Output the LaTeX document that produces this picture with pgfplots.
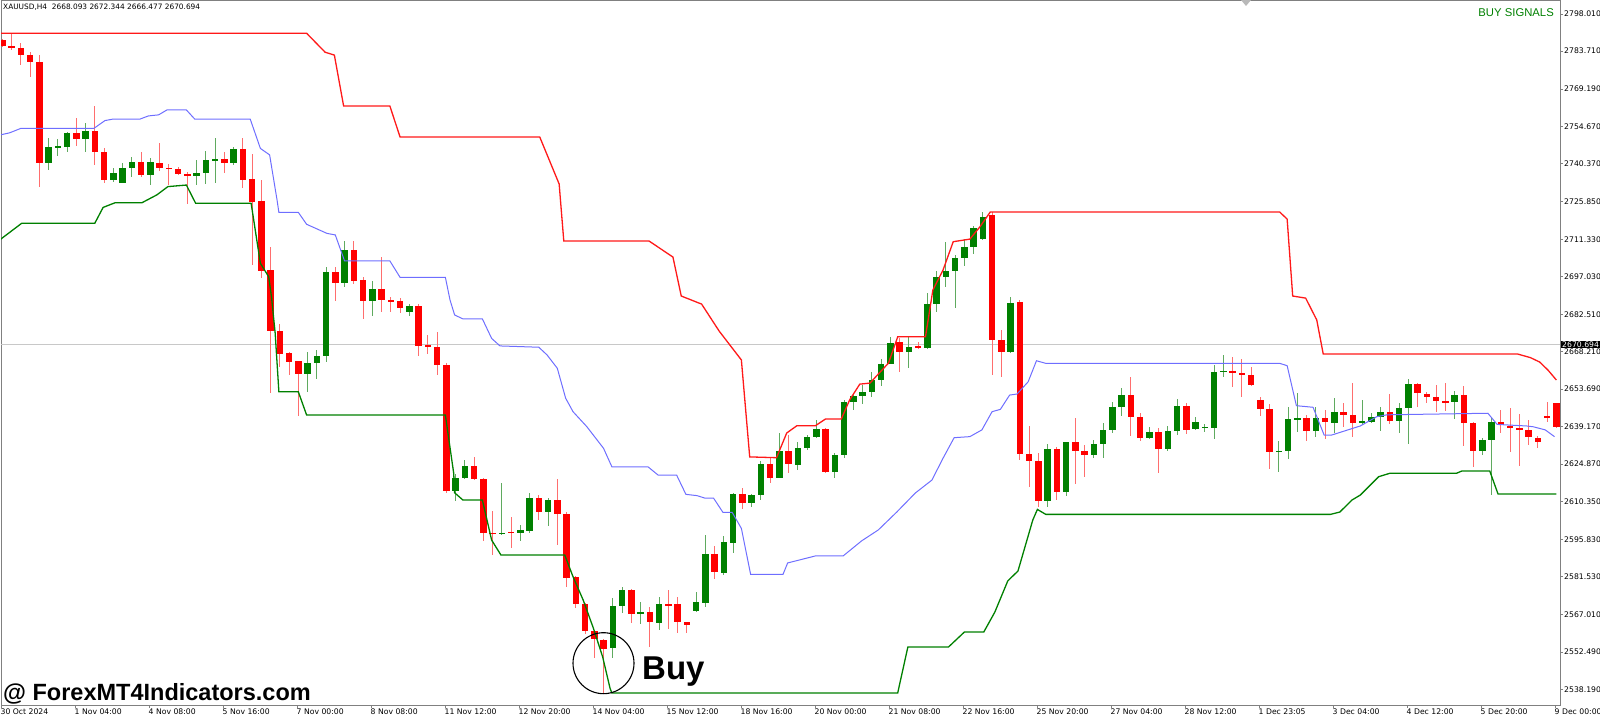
\documentclass[border=0pt]{standalone}
\usepackage{fontspec}
\setmainfont{DejaVu Sans}
\newfontfamily\lib{Liberation Sans}
\usepackage{pgfplots}
\usepackage{pgfplotstable}
\pgfplotsset{compat=1.18}
\definecolor{cgreen}{RGB}{0,128,0}
\definecolor{cred}{RGB}{255,0,0}
\definecolor{wickred}{RGB}{255,110,110}
\definecolor{wickgreen}{RGB}{95,170,95}
\definecolor{lred}{RGB}{255,25,25}
\definecolor{lblue}{RGB}{110,110,255}
\definecolor{lgreen}{RGB}{0,128,0}
\definecolor{axgray}{RGB}{128,128,128}

\pgfplotstableread{
i o h l c
0 2788.0 2788.4 2785.3 2785.7
1 2785.8 2790.3 2784.2 2785.0
2 2784.9 2786.9 2778.4 2782.2
3 2782.2 2783.4 2773.8 2779.5
4 2779.5 2782.2 2731.4 2740.7
8 2752.2 2758.0 2747.2 2749.9
10 2753.0 2762.6 2739.9 2744.9
11 2744.9 2746.5 2733.0 2734.1
15 2741.1 2744.9 2735.3 2736.1
17 2740.7 2748.4 2737.6 2738.8
18 2738.8 2740.3 2732.2 2738.4
19 2738.4 2739.1 2736.1 2736.5
20 2736.5 2737.2 2724.9 2735.7
24 2742.2 2744.9 2736.8 2740.7
26 2746.1 2750.3 2731.1 2734.1
27 2734.5 2744.1 2701.4 2725.7
28 2726.1 2734.1 2696.4 2699.1
29 2699.5 2708.4 2652.2 2676.0
30 2676.0 2678.7 2662.2 2667.2
31 2667.6 2668.0 2659.1 2664.1
32 2664.5 2664.5 2643.3 2659.5
36 2698.7 2700.7 2687.6 2694.5
38 2707.2 2710.7 2694.1 2695.3
39 2695.7 2696.8 2680.7 2687.6
41 2692.2 2704.5 2683.4 2688.0
42 2688.0 2689.1 2683.4 2687.4
43 2687.6 2688.7 2683.0 2684.9
45 2685.7 2686.4 2666.4 2670.3
46 2670.7 2674.5 2667.2 2669.9
47 2669.9 2675.7 2659.1 2663.0
48 2663.0 2663.7 2613.7 2614.5
51 2624.1 2627.6 2618.7 2619.1
52 2619.1 2619.5 2595.3 2598.3
53 2598.5 2606.8 2589.9 2598.1
55 2598.9 2604.5 2592.6 2598.5
58 2611.8 2612.9 2603.3 2606.4
60 2611.0 2619.1 2593.7 2605.6
61 2605.6 2606.4 2577.6 2581.0
62 2581.4 2581.8 2569.5 2571.0
63 2571.0 2571.4 2559.5 2560.6
64 2560.6 2561.0 2550.2 2557.5
65 2557.2 2557.5 2536.8 2553.7
68 2576.4 2576.8 2563.7 2567.1
70 2567.9 2569.9 2554.5 2564.1
72 2571.0 2576.4 2561.4 2570.6
73 2571.0 2573.7 2559.9 2564.1
74 2564.1 2564.1 2559.9 2562.9
77 2590.3 2593.3 2580.6 2583.3
80 2613.3 2615.6 2607.6 2609.9
83 2624.9 2627.2 2617.6 2619.5
85 2629.9 2636.0 2621.4 2624.9
89 2638.3 2638.7 2621.4 2621.8
97 2671.8 2673.4 2660.3 2668.0
99 2670.3 2671.8 2669.1 2669.5
107 2720.7 2721.8 2659.1 2672.6
108 2672.6 2676.4 2658.4 2668.0
110 2687.2 2688.0 2626.4 2628.7
111 2628.7 2639.5 2616.0 2626.0
112 2626.0 2629.1 2608.3 2610.6
114 2630.6 2631.4 2611.0 2614.1
116 2633.3 2642.6 2617.2 2629.9
117 2629.9 2632.2 2619.9 2628.3
122 2651.4 2658.4 2635.6 2642.9
123 2642.9 2644.5 2633.7 2634.9
125 2637.2 2638.7 2621.4 2630.6
128 2647.2 2648.3 2636.4 2637.9
133 2660.7 2666.0 2654.5 2659.9
134 2660.0 2665.3 2650.6 2659.2
135 2659.1 2662.2 2654.9 2655.3
136 2649.5 2650.6 2643.3 2646.0
137 2646.0 2647.9 2622.9 2629.5
141 2642.6 2643.7 2633.7 2637.6
143 2642.6 2645.7 2634.5 2641.0
145 2644.9 2648.3 2639.1 2643.7
146 2643.7 2656.0 2635.3 2640.7
150 2644.9 2651.8 2640.3 2641.4
153 2655.6 2656.0 2646.8 2652.2
154 2651.8 2652.6 2648.3 2650.6
155 2650.6 2655.3 2644.9 2649.1
156 2649.1 2656.0 2645.3 2648.7
158 2651.4 2654.9 2631.8 2640.7
159 2640.7 2641.0 2623.7 2629.9
162 2641.0 2645.7 2636.8 2639.9
163 2639.5 2646.4 2629.5 2638.7
164 2638.7 2644.1 2624.1 2637.9
165 2637.9 2641.8 2632.2 2635.3
166 2634.9 2635.7 2631.0 2633.3
167 2643.3 2648.7 2641.0 2642.9
168 2648.3 2648.3 2638.7 2639.1
}\dn

\pgfplotstableread{
i o h l c
5 2740.7 2750.3 2738.0 2746.8
6 2746.7 2749.9 2743.4 2747.2
7 2746.8 2752.6 2744.9 2752.2
9 2749.9 2756.1 2744.9 2753.0
12 2734.1 2738.8 2733.4 2736.8
13 2733.0 2740.7 2733.0 2738.8
14 2738.8 2743.0 2735.3 2741.1
16 2736.1 2742.6 2732.2 2741.1
21 2735.7 2741.8 2732.2 2736.8
22 2736.8 2745.3 2732.6 2741.8
23 2741.8 2750.3 2733.0 2742.2
25 2740.7 2746.8 2739.9 2746.1
33 2659.5 2668.0 2652.6 2663.7
34 2663.7 2668.7 2657.6 2666.4
35 2666.4 2700.7 2664.1 2698.7
37 2694.5 2710.7 2693.0 2707.2
40 2687.6 2695.3 2681.8 2692.2
44 2683.4 2686.4 2681.8 2685.7
49 2614.5 2621.0 2610.6 2619.5
50 2619.5 2626.4 2619.1 2624.1
54 2598.1 2617.6 2597.6 2598.5
56 2598.3 2601.4 2595.3 2599.3
57 2599.1 2613.7 2598.3 2611.8
59 2606.4 2611.8 2601.0 2611.0
66 2554.1 2573.3 2550.2 2570.2
67 2570.4 2577.6 2567.5 2576.4
69 2567.1 2571.8 2563.3 2567.9
71 2563.7 2573.7 2561.0 2571.0
75 2568.3 2575.6 2567.9 2571.8
76 2571.4 2597.6 2569.9 2590.3
78 2582.9 2597.2 2582.2 2594.9
79 2594.5 2613.7 2590.6 2613.3
81 2609.9 2613.3 2608.3 2612.9
82 2612.9 2626.0 2611.0 2624.9
84 2619.5 2636.8 2619.5 2629.9
86 2624.5 2633.3 2622.6 2631.0
87 2631.0 2636.0 2630.3 2635.3
88 2635.3 2641.8 2634.9 2638.3
90 2621.8 2629.1 2619.5 2628.3
91 2628.3 2649.5 2627.2 2648.7
92 2648.7 2652.2 2645.7 2651.0
93 2651.0 2655.3 2648.0 2652.6
94 2652.6 2660.3 2650.6 2657.2
95 2657.2 2665.3 2654.9 2663.3
96 2663.3 2673.7 2663.3 2671.4
98 2668.0 2673.7 2661.8 2669.9
100 2669.5 2690.7 2669.1 2686.4
101 2686.4 2699.1 2683.4 2696.8
102 2696.8 2710.3 2693.0 2699.1
103 2699.1 2705.3 2684.9 2704.1
104 2704.1 2711.4 2701.1 2708.4
105 2708.4 2716.4 2705.7 2715.7
106 2711.4 2721.8 2711.1 2719.9
109 2668.0 2689.1 2667.6 2686.8
113 2610.6 2632.6 2608.3 2630.6
115 2614.1 2633.3 2612.6 2633.3
118 2628.3 2634.1 2627.2 2632.6
119 2632.6 2640.7 2627.2 2637.9
120 2637.9 2648.7 2636.8 2646.8
121 2646.8 2654.1 2643.3 2651.4
124 2634.9 2639.1 2634.5 2637.2
126 2630.6 2639.5 2629.9 2637.6
127 2637.6 2649.9 2636.0 2647.2
129 2638.3 2642.9 2637.9 2641.0
130 2638.9 2640.3 2637.2 2639.3
131 2638.7 2663.0 2634.5 2660.3
132 2660.3 2666.8 2658.4 2660.7
138 2629.5 2633.7 2621.8 2629.9
139 2629.9 2646.8 2626.8 2642.2
140 2642.0 2652.2 2637.2 2642.6
142 2637.6 2646.8 2635.3 2642.6
144 2640.7 2650.3 2636.8 2644.9
147 2640.7 2649.5 2639.9 2641.4
148 2641.0 2644.5 2640.7 2642.9
149 2642.9 2646.8 2637.6 2644.9
151 2641.4 2648.3 2636.8 2646.4
152 2646.4 2657.6 2632.6 2655.6
157 2648.7 2653.0 2642.2 2651.4
160 2629.9 2634.9 2628.3 2634.1
161 2634.1 2643.0 2613.0 2641.0
}\up

\begin{document}
\begin{tikzpicture}
\begin{axis}[
  at={(1bp,18bp)}, anchor=south west,
  width=1559bp, height=705bp, scale only axis,
  xmin=-0.14, xmax=168.4, ymin=2532.15, ymax=2803.40,
  axis line style={draw=axgray, line width=0.8bp},
  xtick={-0.14,7.86,15.86,23.86,31.86,39.86,47.86,55.86,63.86,71.86,79.86,87.86,95.86,103.86,111.86,119.86,127.86,135.86,143.86,151.86,159.86,167.86},
  xticklabels={30 Oct 2024,1 Nov 04:00,4 Nov 08:00,5 Nov 16:00,7 Nov 00:00,8 Nov 08:00,11 Nov 12:00,12 Nov 20:00,14 Nov 04:00,15 Nov 12:00,18 Nov 16:00,20 Nov 00:00,21 Nov 08:00,22 Nov 16:00,25 Nov 20:00,27 Nov 04:00,28 Nov 12:00,1 Dec 23:05,3 Dec 04:00,4 Dec 12:00,5 Dec 20:00,9 Dec 00:00},
  ytick={2538.19,2552.49,2567.01,2581.53,2595.83,2610.35,2624.87,2639.17,2653.69,2668.21,2682.51,2697.03,2711.33,2725.85,2740.37,2754.67,2769.19,2783.71,2798.01},
  yticklabels={2538.190,2552.490,2567.010,2581.530,2595.830,2610.350,2624.870,2639.170,2653.690,2668.210,2682.510,2697.030,2711.330,2725.850,2740.370,2754.670,2769.190,2783.710,2798.010},
  xtick pos=bottom, ytick pos=right, yticklabel pos=right,
  tick align=outside, major tick length=3bp,
  tick style={draw=axgray, line width=0.8bp},
  xticklabel style={anchor=north west, xshift=-1.5bp, inner sep=1bp, font=\fontsize{7.7bp}{9bp}\selectfont},
  yticklabel style={anchor=west, inner sep=1bp, font=\fontsize{7.7bp}{9bp}\selectfont},
]
% current price line
\addplot[draw={rgb,255:red,200;green,200;blue,200}, line width=1bp, forget plot] coordinates {(-0.14,2670.694) (168.4,2670.694)};

% wicks
\addplot[draw=none, mark=none, forget plot, error bars/.cd, y dir=both, y explicit, error mark=none,
  error bar style={draw=wickred, line width=1bp}]
  table[x=i, y expr={(\thisrow{h}+\thisrow{l})/2}, y error expr={(\thisrow{h}-\thisrow{l})/2}] {\dn};
\addplot[draw=none, mark=none, forget plot, error bars/.cd, y dir=both, y explicit, error mark=none,
  error bar style={draw=wickgreen, line width=1bp}]
  table[x=i, y expr={(\thisrow{h}+\thisrow{l})/2}, y error expr={(\thisrow{h}-\thisrow{l})/2}] {\up};
% bodies
\addplot[draw=none, mark=none, forget plot, error bars/.cd, y dir=both, y explicit, error mark=none,
  error bar style={draw=cred, line width=6.5bp}]
  table[x=i, y expr={(\thisrow{o}+\thisrow{c})/2}, y error expr={max(abs(\thisrow{o}-\thisrow{c})/2,0.2)}] {\dn};
\addplot[draw=none, mark=none, forget plot, error bars/.cd, y dir=both, y explicit, error mark=none,
  error bar style={draw=cgreen, line width=6.5bp}]
  table[x=i, y expr={(\thisrow{o}+\thisrow{c})/2}, y error expr={max(abs(\thisrow{o}-\thisrow{c})/2,0.2)}] {\up};

% upper band (red)
\addplot[lred, line width=1.3bp, mark=none] coordinates {
(-0.2,2790.6) (32.9,2790.6) (34.9,2783.3) (35.9,2782.2) (36.9,2762.6) (41.9,2762.6) (43.0,2750.7) (58.1,2750.7) (60.2,2732.6) (60.7,2710.7) (69.9,2710.7) (72.5,2704.5) (73.4,2689.5) (75.6,2686.4) (77.5,2676.0) (79.9,2664.9) (80.8,2627.6) (83.7,2627.3) (84.8,2636.8) (85.9,2639.6) (87.9,2639.6) (89.0,2642.2) (90.7,2642.2) (91.6,2649.5) (92.7,2655.6) (93.8,2656.0) (95.8,2663.7) (96.8,2673.8) (99.8,2673.8) (100.6,2691.8) (101.7,2699.5) (102.8,2710.4) (104.6,2711.4) (105.7,2716.2) (106.8,2721.8) (138.1,2721.8) (138.9,2719.1) (139.5,2689.5) (140.9,2688.7) (142.1,2680.3) (142.8,2667.2) (163.8,2667.2) (165.2,2665.8) (166.2,2664.1) (167.1,2661.0) (168.0,2657.2)
};
% middle band (blue)
\addplot[lblue, line width=1bp, mark=none] coordinates {
(-0.2,2751.5) (0.8,2752.3) (2.0,2754.0) (9.9,2754.0) (11.1,2757.0) (12.0,2757.6) (14.9,2757.6) (15.8,2758.8) (16.9,2759.2) (17.8,2761.1) (19.9,2761.1) (20.8,2757.6) (26.8,2757.6) (27.9,2746.3) (28.9,2743.8) (29.7,2726.5) (29.9,2721.7) (32.0,2721.7) (32.9,2717.1) (35.1,2713.6) (36.0,2713.0) (37.0,2703.0) (41.9,2703.0) (43.0,2696.7) (47.9,2696.7) (48.4,2688.0) (48.9,2682.2) (49.8,2680.7) (51.9,2680.7) (52.9,2673.2) (53.8,2670.3) (58.0,2669.8) (58.9,2666.8) (60.0,2661.7) (60.9,2650.2) (61.7,2645.0) (63.2,2639.2) (65.0,2630.9) (65.9,2623.8) (69.8,2623.8) (70.9,2620.6) (72.9,2620.6) (73.9,2613.2) (75.1,2612.7) (76.0,2611.7) (76.9,2611.7) (77.9,2606.3) (78.9,2606.3) (79.9,2600.1) (80.9,2582.4) (84.4,2582.4) (84.9,2586.8) (87.9,2589.5) (90.9,2589.5) (92.9,2595.3) (94.7,2599.5) (96.7,2606.4) (98.7,2613.7) (100.5,2618.7) (101.7,2627.1) (102.9,2635.0) (104.6,2635.4) (105.9,2638.0) (107.0,2645.0) (107.9,2645.9) (108.9,2651.4) (109.7,2651.8) (110.9,2656.5) (111.8,2664.6) (112.8,2663.6) (138.1,2663.6) (138.9,2662.7) (139.9,2647.3) (141.7,2646.7) (142.9,2636.0) (143.7,2636.0) (146.8,2639.5) (148.6,2643.1) (149.7,2643.8) (160.6,2644.4) (161.6,2640.1) (164.8,2639.5) (165.5,2639.2) (166.8,2638.0) (167.8,2635.4)
};
% lower band (green)
\addplot[lgreen, line width=1.3bp, mark=none] coordinates {
(-0.2,2711.3) (2.1,2717.5) (10.0,2717.5) (10.9,2723.6) (12.2,2725.4) (15.1,2725.4) (16.7,2728.4) (17.9,2731.6) (19.9,2732.2) (20.9,2725.2) (26.9,2725.2) (27.9,2702.1) (28.8,2696.9) (29.1,2689.2) (29.5,2675.2) (29.9,2652.7) (32.0,2652.7) (32.9,2643.7) (47.9,2643.7) (48.8,2621.3) (48.9,2613.8) (49.8,2611.0) (51.9,2611.0) (52.9,2595.6) (53.9,2589.9) (60.8,2589.9) (61.7,2581.5) (62.8,2572.5) (63.9,2561.7) (64.9,2550.7) (65.7,2538.6) (65.9,2536.8) (96.8,2536.8) (97.9,2554.5) (102.3,2554.5) (104.0,2560.2) (106.1,2560.2) (107.3,2567.9) (108.7,2579.9) (109.8,2583.7) (111.4,2603.3) (111.9,2607.4) (112.8,2605.5) (143.6,2605.5) (144.6,2606.4) (145.9,2611.0) (146.8,2612.9) (147.9,2616.8) (148.8,2620.0) (150.0,2621.3) (157.2,2621.3) (157.8,2622.2) (160.8,2622.2) (161.7,2613.3) (168.0,2613.3)
};
\end{axis}
% annotations (picture coordinates: 1bp = 1px)
\node[anchor=west, inner sep=0, font=\fontsize{7.4bp}{9bp}\selectfont] at (3bp,716bp) {XAUUSD,H4\ \ 2668.093 2672.344 2666.477 2670.694};
\node[anchor=east, inner sep=0, text=cgreen, font=\lib\fontsize{11.3bp}{13bp}\selectfont] at (1554bp,710bp) {BUY SIGNALS};
\fill[gray!55] (1241bp,723bp) -- (1251bp,723bp) -- (1246bp,717bp) -- cycle;
\node[anchor=west, fill=black, text=white, inner xsep=1bp, inner ysep=1bp, font=\fontsize{7.7bp}{9bp}\selectfont] at (1561bp,378.5bp) {2670.694};
\draw[black, line width=1.1bp] (603.5bp,59.8bp) circle[radius=30.5bp];
\node[anchor=base west, inner sep=0, font=\lib\bfseries\fontsize{33bp}{36bp}\selectfont] at (642bp,43bp) {Buy};
\node[anchor=base west, inner sep=0, font=\lib\bfseries\fontsize{23.5bp}{26bp}\selectfont] at (3bp,23bp) {@ ForexMT4Indicators.com};
\pgfresetboundingbox
\path[use as bounding box] (0,0) rectangle (1600bp,723bp);
\end{tikzpicture}
\end{document}
